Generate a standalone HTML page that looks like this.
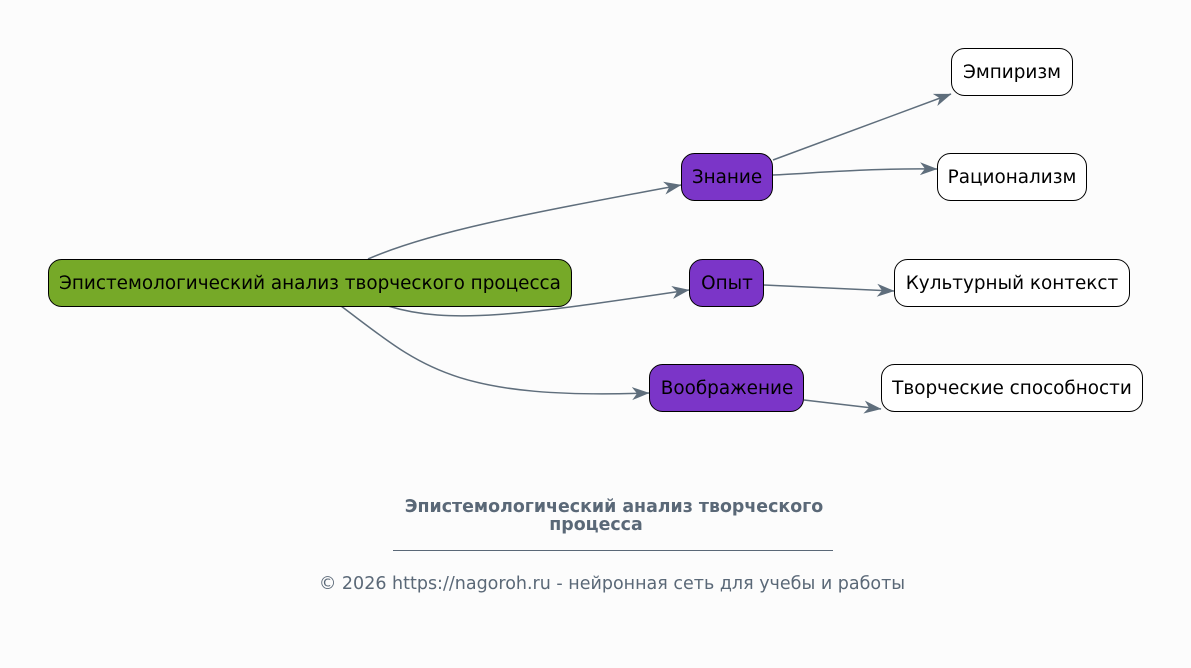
<!DOCTYPE html>
<html><head><meta charset="utf-8"><style>
html,body{margin:0;padding:0;background:#fcfcfc;}
svg{display:block;font-family:"DejaVu Sans","Liberation Sans",sans-serif;}
</style></head><body>
<svg width="1191" height="668" viewBox="0 0 1191 668" xmlns="http://www.w3.org/2000/svg">
<defs>
<marker id="a" viewBox="0 0 18 14" refX="17" refY="7" markerWidth="18" markerHeight="14" markerUnits="userSpaceOnUse" orient="auto">
<path d="M0,0.5 L17.5,7 L0,13.5 L5,7 z" fill="#5f6e7c"/>
</marker>
</defs>
<rect width="1191" height="668" fill="#fcfcfc"/>
<g fill="none" stroke="#5f6e7c" stroke-width="1.5" marker-end="url(#a)">
<path d="M368,259 C430,232 520,215 681,185"/>
<path d="M388,306 C450,325 520,315 689,290"/>
<path d="M341,306 C420,365 450,400 649,393"/>
<path d="M773,160 L951,94"/>
<path d="M773,175 C830,172 880,168 937,169"/>
<path d="M764,285 L894,291"/>
<path d="M804,400 L881,409"/>
</g>
<g stroke="#000" stroke-width="1">
<rect x="48.5" y="259.5" width="523" height="47" rx="13" fill="#76a928"/>
<rect x="681.5" y="153.5" width="91" height="47" rx="13" fill="#7b35c8"/>
<rect x="689.5" y="259.5" width="74" height="47" rx="13" fill="#7b35c8"/>
<rect x="649.5" y="364.5" width="154" height="47" rx="13" fill="#7b35c8"/>
<rect x="951.5" y="48.5" width="121" height="47" rx="13" fill="#fff"/>
<rect x="937.5" y="153.5" width="149" height="47" rx="13" fill="#fff"/>
<rect x="894.5" y="259.5" width="235" height="47" rx="13" fill="#fff"/>
<rect x="881.5" y="364.5" width="261" height="47" rx="13" fill="#fff"/>
</g>
<g font-size="18.4" fill="#000" text-anchor="middle">
<text x="310" y="289">Эпистемологический анализ творческого процесса</text>
<text x="727" y="183">Знание</text>
<text x="727" y="289">Опыт</text>
<text x="727" y="394">Воображение</text>
<text x="1012" y="78">Эмпиризм</text>
<text x="1012" y="183">Рационализм</text>
<text x="1012" y="289">Культурный контекст</text>
<text x="1012" y="394">Творческие способности</text>
</g>
<g fill="#5a6877" text-anchor="middle">
<text x="614" y="512" font-size="17.4" font-weight="bold">Эпистемологический анализ творческого</text>
<text x="596" y="530" font-size="17.4" font-weight="bold">процесса</text>
<line x1="393" y1="550.5" x2="833" y2="550.5" stroke="#5a6877" stroke-width="1"/>
<text x="612" y="589" font-size="17.5">© 2026 https://nagoroh.ru - нейронная сеть для учебы и работы</text>
</g>
</svg>
</body></html>
